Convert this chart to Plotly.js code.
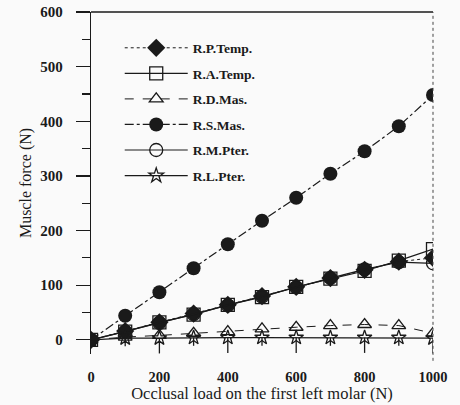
<!DOCTYPE html>
<html>
<head>
<meta charset="utf-8">
<script src="https://cdn.plot.ly/plotly-3.0.1.min.js"></script>
<style>html,body{margin:0;padding:0;background:#fafafa;}#chart{width:460px;height:405px;}</style>
</head>
<body>
<div id="chart"></div>
<script>
var load = [0, 100, 200, 300, 400, 500, 600, 700, 800, 900, 1000];
var rpTemp = [0, 16, 32, 48, 64, 80, 97, 113, 128, 143, 150];
var raTemp = [0, 15, 32, 46, 64, 78, 97, 112, 126, 145, 166];
var rdMas  = [0, 5, 8, 12, 15, 20, 23, 26, 28, 26, 12];
var rsMas  = [0, 44, 87, 131, 175, 218, 260, 304, 345, 391, 448];
var rmPter = [0, 15, 31, 47, 63, 79, 96, 113, 129, 142, 140];
var rlPter = [0, 3, 3, 4, 4, 4, 4, 4, 4, 4, 3];
var rlPterErr = [0, 15, 28, 15, 28, 15, 28, 15, 28, 15, 28];
var names = ['R.P.Temp.', 'R.A.Temp.', 'R.D.Mas.', 'R.S.Mas.', 'R.M.Pter.', 'R.L.Pter.'];
var xTicks = [0, 200, 400, 600, 800, 1000];
var yTicks = [0, 100, 200, 300, 400, 500, 600];

var ink = '#1a1a1a';
var serif = 'Liberation Serif, Times New Roman, serif';

var traces = [
  {x: load, y: rpTemp, name: names[0], mode: 'lines+markers',
   line: {color: ink, width: 1, dash: 'dot'},
   marker: {symbol: 'diamond', size: 14, color: ink}},
  {x: load, y: raTemp, name: names[1], mode: 'lines+markers',
   line: {color: ink, width: 1.2},
   marker: {symbol: 'square-open', size: 13, color: ink, line: {width: 1.3}}},
  {x: load, y: rdMas, name: names[2], mode: 'lines+markers',
   line: {color: ink, width: 1, dash: 'dash'},
   marker: {symbol: 'triangle-up-open', size: 12, color: ink, line: {width: 1.3}}},
  {x: load, y: rsMas, name: names[3], mode: 'lines+markers',
   line: {color: ink, width: 1.2, dash: 'dashdot'},
   marker: {symbol: 'circle', size: 14, color: ink}},
  {x: load, y: rmPter, name: names[4], mode: 'lines+markers',
   line: {color: ink, width: 1.2},
   marker: {symbol: 'circle-open', size: 13, color: ink, line: {width: 1.3}}},
  {x: load, y: rlPter, name: names[5], mode: 'lines+markers',
   line: {color: ink, width: 1.2},
   marker: {symbol: 'star-open', size: 11, color: ink, line: {width: 1.3}},
   error_y: {type: 'data', symmetric: false, array: load.map(function(){return 0;}), arrayminus: rlPterErr, color: ink, thickness: 1.3, width: 0}}
];
traces.forEach(function(t, i){ t.legendgroup = 'g' + i; });

var layout = {
  width: 460, height: 405,
  paper_bgcolor: '#fafafa', plot_bgcolor: '#fafafa',
  margin: {l: 91, r: 27, t: 12, b: 51},
  showlegend: true,
  legend: {x: 0.084, y: 0.94, xanchor: 'left', yanchor: 'top', bgcolor: 'rgba(0,0,0,0)',
           font: {family: serif, size: 13.5, color: ink, weight: 'bold'},
           traceorder: 'grouped', tracegroupgap: 5, itemwidth: 63},
  xaxis: {range: [0, 1000], tickvals: xTicks, showline: false, showgrid: false, zeroline: false,
          ticks: '', tickfont: {family: serif, size: 14.5, color: ink, weight: 'bold'},
          ticklabelstandoff: 12,
          title: {text: 'Occlusal load on the first left molar (N)', font: {family: serif, size: 16.5, color: ink}, standoff: 3}},
  yaxis: {range: [-26, 600], tickvals: yTicks, showline: true, linecolor: ink, linewidth: 1.3,
          showgrid: false, zeroline: false, ticks: 'outside', ticklen: 14, tickwidth: 1.3, tickcolor: ink,
          minor: {dtick: 50, tick0: 0, ticks: 'outside', ticklen: 8, tickwidth: 1.2, tickcolor: ink},
          tickfont: {family: serif, size: 15, color: ink, weight: 'bold'}, ticklabelstandoff: 10,
          title: {text: 'Muscle force (N)', font: {family: serif, size: 16, color: ink}, standoff: 4}},
  shapes: [
    {type: 'line', xref: 'paper', yref: 'paper', x0: 0, x1: 1, y0: 1, y1: 1, line: {color: ink, width: 1.3}},
    {type: 'line', xref: 'paper', yref: 'paper', x0: 1, x1: 1, y0: -0.02, y1: 1, line: {color: '#444', width: 1, dash: 'dot'}}
  ]
};

Plotly.newPlot('chart', traces, layout, {displayModeBar: false, staticPlot: true});
</script>
</body>
</html>
